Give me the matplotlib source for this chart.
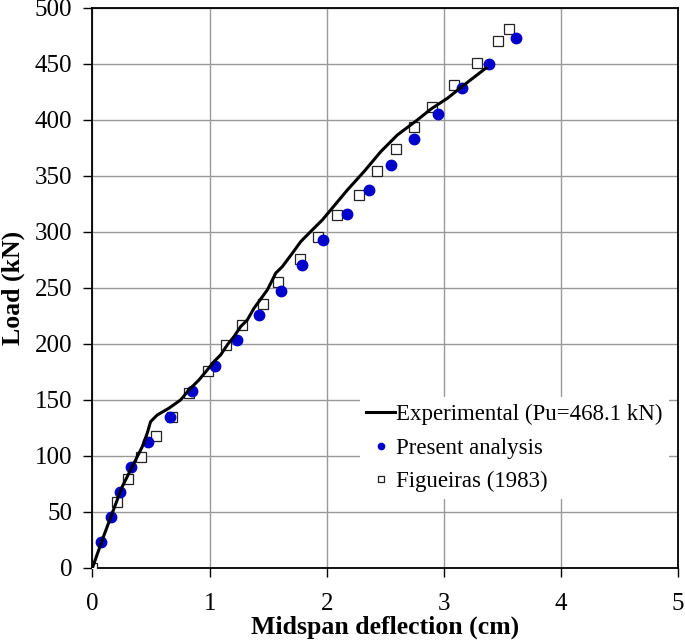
import matplotlib
matplotlib.use("Agg")
from matplotlib import pyplot as plt

# Experimental curve (Pu = 468.1 kN)
exp_x = [0.0, 0.083, 0.168, 0.254, 0.339, 0.425, 0.467, 0.496, 0.553, 0.652, 0.752,
         0.823, 0.909, 0.980, 1.037, 1.094, 1.151, 1.208, 1.265, 1.322, 1.379, 1.493,
         1.536, 1.564, 1.621, 1.707, 1.778, 1.863, 1.963, 2.034, 2.177, 2.319, 2.462,
         2.604, 2.775, 2.889, 3.032, 3.174, 3.359]
exp_y = [0.0, 24.7, 48.6, 72.4, 90.2, 108.1, 120.0, 130.4, 136.4, 142.4, 149.8,
         158.7, 167.7, 176.6, 184.0, 190.0, 199.0, 206.4, 215.3, 221.3, 231.7, 248.1,
         257.0, 263.0, 268.9, 280.9, 291.2, 300.2, 310.6, 319.5, 337.4, 353.8, 371.6,
         386.5, 399.9, 409.5, 419.3, 431.2, 446.1]

# Present analysis
pres_x = [0.074, 0.154, 0.231, 0.333, 0.476, 0.661, 0.846, 1.046, 1.231, 1.422,
          1.607, 1.792, 1.972, 2.171, 2.359, 2.550, 2.746, 2.946, 3.154, 3.382, 3.615]
pres_y = [22.7, 45.3, 67.3, 90.2, 112.3, 135.0, 157.8, 180.2, 203.1, 225.4,
          247.5, 270.1, 292.7, 315.4, 337.4, 360.0, 382.7, 405.3, 427.9, 450.0, 472.9]

# Figueiras (1983)
fig_x = [0.0, 0.211, 0.302, 0.410, 0.541, 0.681, 0.823, 0.986, 1.142, 1.279, 1.456,
         1.587, 1.772, 1.926, 2.091, 2.276, 2.430, 2.590, 2.749, 2.900, 3.088, 3.279,
         3.459, 3.558]
fig_y = [0.0, 59.0, 79.0, 98.6, 117.9, 135.0, 155.8, 175.7, 199.2, 216.5, 235.3,
         255.2, 275.5, 295.1, 314.5, 333.0, 354.4, 374.3, 393.7, 411.6, 431.2, 450.9,
         470.3, 480.6]

x_ticks = [0, 1, 2, 3, 4, 5]
y_ticks = list(range(0, 501, 50))

plt.rcParams['font.family'] = ['Liberation Serif', 'DejaVu Serif']

fig = plt.figure(figsize=(6.85, 6.43), dpi=100)
ax = fig.add_axes([0.135, 0.117, 0.855, 0.871])

ax.plot(fig_x, fig_y, linestyle='none', marker='s', markersize=7.5,
        markerfacecolor='white', markeredgecolor='#222222', markeredgewidth=0.9,
        label='Figueiras (1983)', zorder=3)
ax.plot(pres_x, pres_y, linestyle='none', marker='o', markersize=7.5,
        color='#0000cc', label='Present analysis', zorder=4)
ax.plot(exp_x, exp_y, color='black', linewidth=2.2,
        label='Experimental (Pu=468.1 kN)', zorder=5)

ax.set_xlim(0, 5)
ax.set_ylim(0, 500)
ax.set_xticks(x_ticks)
ax.set_yticks(y_ticks)
ax.grid(True, color='#999999', linewidth=1.0)
ax.set_axisbelow(True)
for s in ax.spines.values():
    s.set_color('black')
    s.set_linewidth(1.3)
ax.tick_params(axis='both', direction='out', length=6.5, width=1.0, labelsize=18)
ax.tick_params(axis='x', pad=12)
ax.tick_params(axis='y', pad=8)

ax.set_xlabel('Midspan deflection (cm)', fontsize=18.5, fontweight='bold', labelpad=0)
ax.set_ylabel('Load (kN)', fontsize=18.5, fontweight='bold', labelpad=7)

handles, labels = ax.get_legend_handles_labels()
order = [2, 1, 0]
leg = ax.legend([handles[i] for i in order], [labels[i] for i in order],
                loc='upper left', bbox_to_anchor=(0.456, 0.305),
                fontsize=16.5, frameon=True, fancybox=False, framealpha=1,
                edgecolor='none', facecolor='white', markerscale=0.6,
                handlelength=1.25, handletextpad=0.02, labelspacing=0.55,
                borderpad=0.3, borderaxespad=0)
leg.set_zorder(6)

fig.savefig('out.png', dpi=100)
